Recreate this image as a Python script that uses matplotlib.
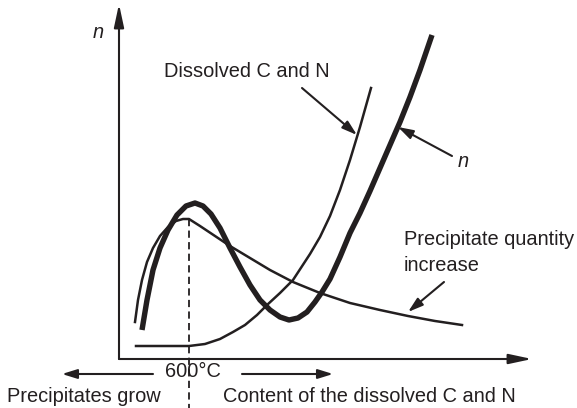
# file: plot.py
# schematic: number of precipitates n versus temperature

#####################################################################

# LIBRARIES

from matplotlib.pyplot import figure, rcParams

rcParams["font.family"] = ["Liberation Sans", "DejaVu Sans"]

#####################################################################

# DATA (pixel coordinates, y downwards)

# thick curve "n"
nX = [142, 147, 153, 160, 168, 177, 186, 195, 203, 211, 220, 230,
      240, 250, 260, 270, 280, 289, 298, 307, 315, 322, 330, 340,
      350, 360, 370, 380, 390, 400, 410, 420, 432]
nY = [330, 300, 270, 248, 230, 215, 206, 203, 206, 214, 228, 248,
      267, 285, 300, 310, 317, 320, 318, 312, 302, 292, 279, 257,
      233, 213, 191, 168, 145, 122,  97,  70,  35]

# thin curve: precipitates grow then precipitate quantity decreases
pX = [135, 138, 142, 147, 153, 160, 168, 176, 183, 189, 200, 215,
      230, 250, 270, 293, 320, 350, 380, 408, 435, 462]
pY = [322, 300, 280, 262, 248, 236, 227, 221, 219, 219, 226, 236,
      246, 258, 270, 282, 293, 303, 310, 316, 321, 325]

# thin curve: dissolved C and N
dX = [136, 189, 205, 220, 233, 245, 257, 267, 280, 293, 310, 320,
      330, 340, 350, 360, 371]
dY = [346, 346, 344, 339, 332, 325, 315, 305, 293, 280, 254, 237,
      216, 190, 160, 127,  88]

# 600 C marker
T600 = 189
T600_top = 219

# axes
origin = (119, 359)
xtip = (532, 359)
ytip = (119, 4)

# labels: (text, x, y baseline, italic)
labels = [
    ("n", 93, 38, True),
    ("Dissolved C and N", 164, 77, False),
    ("n", 458, 167, True),
    ("Precipitate quantity", 404, 245, False),
    ("increase", 404, 271, False),
    ("600\u00b0C", 165, 377, False),
    ("Precipitates grow", 7, 402, False),
    ("Content of the dissolved C and N", 223, 402, False),
]

# pointer arrows: (start, end)
pointers = [
    ((302, 88), (357, 135)),
    ((452, 156), (398, 127)),
    ((444, 282), (408, 312)),
    ((153, 374), (62, 374)),
    ((242, 374), (333, 374)),
]

#####################################################################

# FIGURE

ink = "#231f20"

fg = figure(figsize = (5.77, 4.08), dpi = 100)
ax = fg.add_axes([0, 0, 1, 1])
ax.set_xlim(0, 577)
ax.set_ylim(408, 0)
ax.axis("off")

# axes with arrow heads
for tip in (xtip, ytip):
    ax.annotate("", xy = tip, xytext = origin,
        arrowprops = dict(
            arrowstyle = "-|>,head_length=1.4,head_width=0.3",
            mutation_scale = 10, lw = 1.5, color = ink,
            shrinkA = 0, shrinkB = 0))

# curves
ax.plot(pX, pY, color = ink, lw = 1.8, solid_joinstyle = "round")
ax.plot(dX, dY, color = ink, lw = 1.8, solid_joinstyle = "round")
ax.plot(nX, nY, color = ink, lw = 3.9, solid_joinstyle = "round",
        solid_capstyle = "butt")

# dashed 600 C line
ax.plot([T600, T600], [T600_top, 408], color = ink, lw = 1.3,
        dashes = (4.0, 2.4))

# pointer arrows
for a, b in pointers:
    ax.annotate("", xy = b, xytext = a,
        arrowprops = dict(
            arrowstyle = "-|>,head_length=0.9,head_width=0.28",
            mutation_scale = 10, lw = 1.5, color = ink,
            shrinkA = 0, shrinkB = 0))

# texts
for t, x, y, it in labels:
    ax.text(x, y, t, fontsize = 14.4, color = ink,
            ha = "left", va = "baseline",
            style = "italic" if it else "normal")

fg.savefig("out.png", dpi = 100)
